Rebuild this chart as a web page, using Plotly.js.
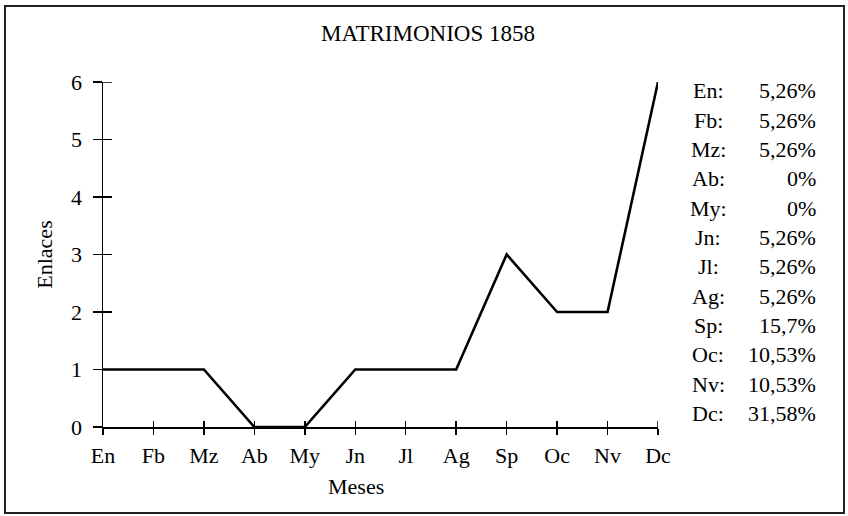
<!DOCTYPE html>
<html>
<head>
<meta charset="utf-8">
<script src="https://cdn.plot.ly/plotly-3.0.1.min.js"></script>
<style>
html,body{margin:0;padding:0;background:#fff;}
#chart{width:848px;height:516px;}
</style>
</head>
<body>
<div id="chart"></div>
<script>
// Data
const months = ['En','Fb','Mz','Ab','My','Jn','Jl','Ag','Sp','Oc','Nv','Dc'];
const enlaces = [1,1,1,0,0,1,1,1,3,2,2,6];
const pctLabels = ['5,26%','5,26%','5,26%','0%','0%','5,26%','5,26%','5,26%','15,7%','10,53%','10,53%','31,58%'];
const yTicks = [0,1,2,3,4,5,6];

const FONT = 'Liberation Serif, Times New Roman, serif';
const FS = 22;
const W = 848, H = 516;
const L = 103, R = 658, T = 82, B = 427;
const pw = R - L, ph = B - T;
const px2x = p => (p - L) / pw;
const py2y = p => (B - p) / ph;
const XT = 6, YT = 9; // tick half-lengths in px

const xIdx = months.map((m, i) => i);
const xMax = months.length - 1;
const yMax = yTicks[yTicks.length - 1];

const traces = [
  {x: xIdx, y: enlaces, type: 'scatter', mode: 'lines',
   line: {color: '#000', width: 2.6}, hoverinfo: 'skip', showlegend: false},
  {x: xIdx, y: enlaces, xaxis: 'x2', yaxis: 'y2', type: 'scatter', mode: 'lines',
   line: {color: '#000', width: 0.1}, opacity: 0, hoverinfo: 'skip', showlegend: false}
];

const annotations = [];
months.forEach((m, i) => {
  const py = 91 + i * 29.3;
  annotations.push({xref: 'paper', yref: 'paper', x: px2x(708), y: py2y(py),
    text: m + ':', showarrow: false, xanchor: 'center', yanchor: 'middle',
    font: {family: FONT, size: FS, color: '#000'}});
  annotations.push({xref: 'paper', yref: 'paper', x: px2x(818), y: py2y(py),
    text: pctLabels[i], showarrow: false, xanchor: 'right', yanchor: 'middle',
    font: {family: FONT, size: FS, color: '#000'}});
});
annotations.push({xref: 'paper', yref: 'paper', x: px2x(356), y: py2y(487),
  text: 'Meses', showarrow: false, xanchor: 'center', yanchor: 'middle',
  font: {family: FONT, size: FS, color: '#000'}});

const axisBase = {
  showgrid: false, zeroline: false, linecolor: '#000', linewidth: 1.5,
  tickcolor: '#000', tickwidth: 1.5, fixedrange: true
};

const layout = {
  width: W, height: H,
  margin: {l: L, r: W - R, t: T, b: H - B, pad: 0},
  paper_bgcolor: '#fff', plot_bgcolor: '#fff',
  font: {family: FONT, color: '#000', size: FS},
  title: {text: 'MATRIMONIOS 1858', x: 428 / W, xanchor: 'center', y: 1 - 33 / H, yanchor: 'middle',
    font: {family: FONT, size: 23, color: '#000'}},
  showlegend: false,
  xaxis: Object.assign({}, axisBase, {
    showline: true,
    range: [0, xMax], tickmode: 'array', tickvals: xIdx, ticktext: months,
    ticks: 'outside', ticklen: XT, ticklabelstandoff: 2,
    tickfont: {family: FONT, size: FS, color: '#000'}
  }),
  yaxis: Object.assign({}, axisBase, {
    showline: true,
    range: [0, yMax], tickmode: 'array', tickvals: yTicks, ticktext: yTicks.map(String),
    ticks: 'outside', ticklen: YT, ticklabelstandoff: 6,
    tickfont: {family: FONT, size: FS, color: '#000'},
    title: {text: 'Enlaces', standoff: 12, font: {family: FONT, size: FS, color: '#000'}}
  }),
  // overlay axes: inner half of the crossing ticks
  xaxis2: Object.assign({}, axisBase, {
    overlaying: 'x', anchor: 'y2', showline: false,
    range: [0, xMax], tickmode: 'array', tickvals: xIdx,
    ticks: 'inside', ticklen: XT, showticklabels: false
  }),
  yaxis2: Object.assign({}, axisBase, {
    overlaying: 'y', anchor: 'x2', showline: false,
    range: [0, yMax], tickmode: 'array', tickvals: yTicks,
    ticks: 'inside', ticklen: YT, showticklabels: false
  }),
  shapes: [
    {type: 'rect', xref: 'paper', yref: 'paper',
     x0: px2x(5), x1: px2x(844), y0: py2y(513), y1: py2y(6),
     line: {color: '#222', width: 2}, fillcolor: 'rgba(0,0,0,0)', layer: 'below'},
    // inner halves of the end ticks (Plotly omits inside ticks at range ends)
    {type: 'line', xref: 'x domain', yref: 'y', x0: 0, x1: YT / pw, y0: yMax, y1: yMax,
     line: {color: '#000', width: 1.5}},
    {type: 'line', xref: 'x', yref: 'y domain', x0: xMax, x1: xMax, y0: 0, y1: XT / ph,
     line: {color: '#000', width: 1.5}}
  ],
  annotations: annotations
};

Plotly.newPlot('chart', traces, layout, {displayModeBar: false, staticPlot: true});
</script>
</body>
</html>
